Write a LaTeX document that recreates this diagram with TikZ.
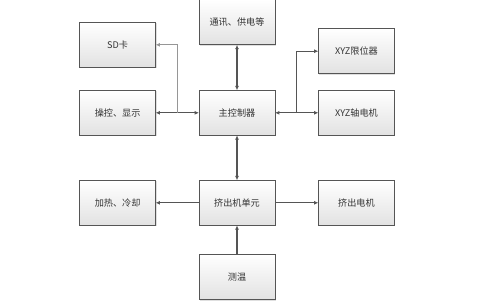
\documentclass[tikz,border=0pt]{standalone}
\usepackage{fontspec}
\newfontfamily\cjk{Noto Sans CJK SC}
\usetikzlibrary{positioning,calc,arrows.meta,shadows}
\definecolor{linegray}{RGB}{85,85,85}
\definecolor{lightline}{RGB}{150,150,150}
\definecolor{boxbottom}{RGB}{226,226,226}

\begin{document}
\begin{tikzpicture}[font=\cjk\fontsize{13}{15}\selectfont,>={Latex[length=2.2mm,width=2mm]},
      box/.style={draw=linegray,line width=1.1pt,align=center,text=black!80,
        minimum width=38mm,minimum height=22.5mm,inner sep=0pt,outer sep=0pt,
        top color=white,bottom color=boxbottom,
        drop shadow={shadow xshift=0.5mm,shadow yshift=-0.5mm,opacity=0.25}},
      link/.style={draw=linegray,line width=1.6pt}]
    \useasboundingbox (-118.5mm,-93.6mm) rectangle (121.5mm,56.4mm);
    \node[box] (main) {主控制器};
    \node[box,above=22.75mm of main] (comm) {通讯、供电等};
    \node[box,left=21.7mm of main] (ctrl) {操控、显示};
    \node[box,above=11.5mm of ctrl] (sd) {SD卡};
    \node[box,right=21.7mm of main] (motor) {XYZ轴电机};
    \node[box,above=8.3mm of motor] (limit) {XYZ限位器};
    \node[box,below=22.5mm of main] (ext) {挤出机单元};
    \node[box,left=21.7mm of ext] (heat) {加热、冷却};
    \node[box,right=21.7mm of ext] (emotor) {挤出电机};
    \node[box,below=14.6mm of ext] (temp) {测温};
    \coordinate (jl) at ($(ctrl.east)!0.5!(main.west)$);
    \coordinate (jr) at ($(main.east)!0.5!(motor.west)$);
    \draw[link,<->] (comm) -- (main);
    \draw[link,<->] (ctrl) -- (main);
    \draw[link,draw=lightline,->] (jl) |- (sd.east);
    \draw[link,<->] (main) -- (motor);
    \draw[link,->] (jr) |- (limit.west);
    \draw[link,<->] (main) -- (ext);
    \draw[link,->] (ext) -- (heat);
    \draw[link,->] (ext) -- (emotor);
    \draw[link,->] (temp) -- (ext);
  \end{tikzpicture}
\end{document}
